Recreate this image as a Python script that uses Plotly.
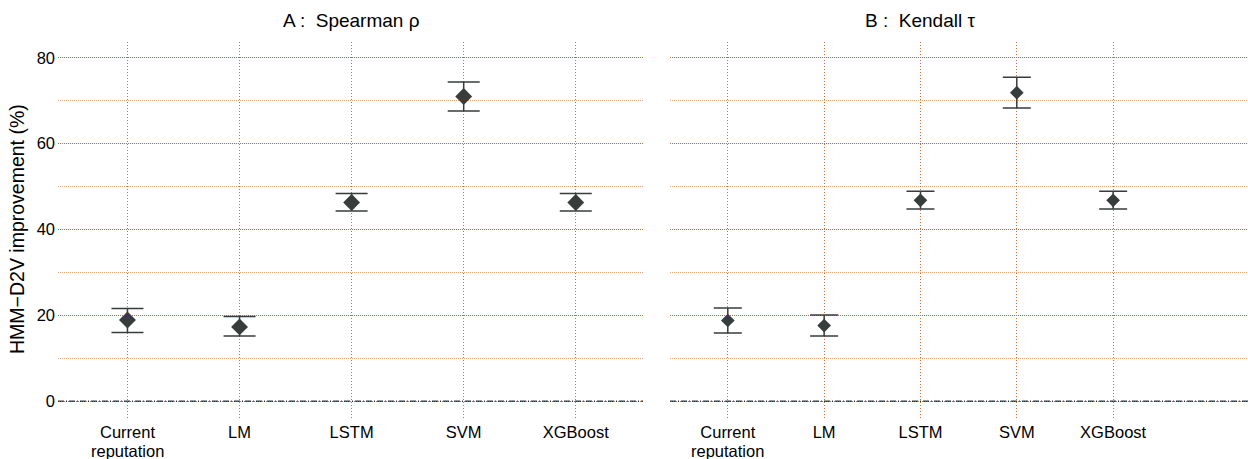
import plotly.graph_objects as go

models = ["Current", "LM", "LSTM", "SVM", "XGBoost"]
model_second_line = ["reputation", "", "", "", ""]

# Panel A: Spearman rho improvement (%) with interval bounds
spearman_mean = [18.9, 17.3, 46.3, 71.0, 46.3]
spearman_low = [16.0, 15.2, 44.3, 67.6, 44.3]
spearman_high = [21.6, 19.7, 48.4, 74.4, 48.4]

# Panel B: Kendall tau improvement (%) with interval bounds
kendall_mean = [18.8, 17.6, 46.8, 71.9, 46.8]
kendall_low = [15.9, 15.2, 44.8, 68.3, 44.8]
kendall_high = [21.7, 20.1, 48.9, 75.5, 48.9]

y_ticks = [0, 20, 40, 60, 80]

W, H = 1248, 459
FONT = "Liberation Sans, Arial, sans-serif"
MARK = "#373d3d"
GRID = "#c8703a"
GRID_MINOR = "#e2a77e"
TICK_SIZE = 16.5

fig = go.Figure()


def add_panel(mean, low, high, xa, ya, half_cap, size):
    fig.add_trace(go.Scatter(
        x=list(range(len(models))), y=mean,
        mode="markers",
        marker=dict(symbol="diamond", size=size, color=MARK, line=dict(width=0)),
        error_y=dict(type="data", symmetric=False,
                     array=[h - m for h, m in zip(high, mean)],
                     arrayminus=[m - l for m, l in zip(mean, low)],
                     color=MARK, thickness=1.5, width=half_cap),
        xaxis=xa, yaxis=ya, showlegend=False, hoverinfo="skip",
    ))


add_panel(spearman_mean, spearman_low, spearman_high, "x", "y", 16, 13)
add_panel(kendall_mean, kendall_low, kendall_high, "x2", "y2", 14, 10.5)

y_top, y_bot = 42, 420
ydom = [(H - y_bot) / H, (H - y_top) / H]
yrange = [-4.4, 83.7]

common_x = dict(
    tickmode="array", tickvals=list(range(len(models))), ticktext=models,
    showgrid=True, gridcolor=GRID, griddash="1px,2px", gridwidth=1,
    zeroline=False, showline=False, ticks="", ticklen=0, automargin=False,
    tickfont=dict(family=FONT, size=TICK_SIZE, color="black"), fixedrange=True,
)
common_y = dict(
    range=yrange, domain=ydom, tickmode="array", tickvals=y_ticks,
    showgrid=True, gridcolor=GRID, griddash="1px,1px", gridwidth=1,
    minor=dict(tickvals=[10, 30, 50, 70], showgrid=True, gridcolor=GRID_MINOR,
               griddash="1px,1px", gridwidth=1),
    zeroline=False, showline=False, ticks="", automargin=False,
    ticklabelstandoff=2,
    tickfont=dict(family=FONT, size=16.5, color="black"),
)

fig.update_layout(
    width=W, height=H,
    margin=dict(l=0, r=0, t=0, b=0),
    paper_bgcolor="white", plot_bgcolor="white",
    xaxis=dict(common_x, domain=[58 / W, 643 / W], range=[-0.62, 4.6]),
    yaxis=dict(common_y, anchor="x"),
    xaxis2=dict(common_x, domain=[670 / W, 1.0], range=[-0.6, 5.4]),
    yaxis2=dict(common_y, anchor="x2", showticklabels=False),
)

# second line of the category labels, set tighter than the default line height
for xr in ["x", "x2"]:
    for i, txt in enumerate(model_second_line):
        if txt:
            fig.add_annotation(text=txt, x=i, xref=xr, y=1 - 450.5 / H, yref="paper",
                               showarrow=False, yanchor="middle",
                               font=dict(family=FONT, size=TICK_SIZE, color="black"))

# dash-dot reference line at zero improvement
for xr in ["x", "x2"]:
    fig.add_shape(type="line", xref=f"{xr} domain", yref=xr.replace("x", "y"),
                  x0=0, x1=1, y0=0, y1=0,
                  line=dict(color="black", width=1, dash="6px,2px,1px,2px"))

title_y = 1 - 20 / H
fig.add_annotation(text="A :  Spearman ρ", x=2, xref="x", y=title_y, yref="paper",
                   showarrow=False, yanchor="middle",
                   font=dict(family=FONT, size=19, color="black"))
fig.add_annotation(text="B :  Kendall τ", x=2, xref="x2", y=title_y, yref="paper",
                   showarrow=False, yanchor="middle",
                   font=dict(family=FONT, size=19, color="black"))

fig.add_annotation(text="HMM−D2V improvement (%)", x=17 / W, y=1 - 229 / H,
                   xref="paper", yref="paper", textangle=-90, showarrow=False,
                   xanchor="center", yanchor="middle",
                   font=dict(family=FONT, size=19.5, color="black"))

fig.write_html("out.html")
